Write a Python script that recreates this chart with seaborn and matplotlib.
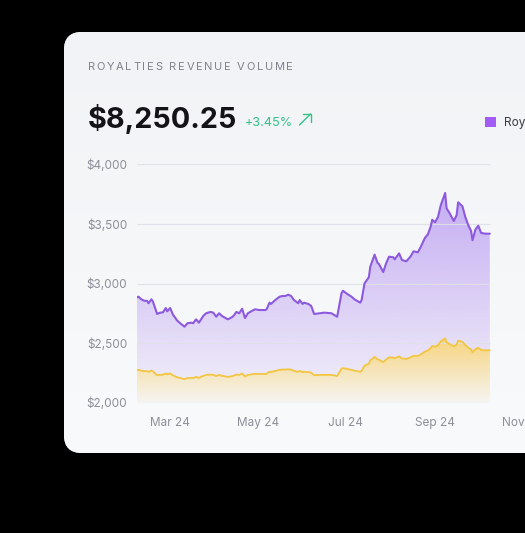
import numpy as np
import pandas as pd
import matplotlib
matplotlib.use("Agg")
import matplotlib.pyplot as plt
import matplotlib.dates as mdates
import seaborn as sns
from matplotlib.patches import FancyBboxPatch, Patch
from matplotlib.colors import to_rgb

# ---------------- data ----------------
start_date = "2024-02-07"
day_offset = [0, 1, 3, 5, 7, 8, 10, 11, 14, 16,
              18, 20, 21, 23, 25, 28, 30, 33, 35, 38,
              39, 41, 43, 46, 48, 51, 53, 55, 57, 59,
              63, 65, 67, 69, 71, 73, 75, 77, 80, 82,
              85, 89, 90, 92, 93, 96, 99, 101, 103, 105,
              107, 109, 112, 113, 115, 116, 119, 121, 123, 127,
              130, 135, 139, 142, 143, 146, 149, 151, 155, 156,
              158, 161, 162, 165, 167, 168, 171, 173, 175, 178,
              179, 182, 184, 187, 190, 192, 195, 197, 200, 202,
              204, 205, 207, 209, 211, 214, 215, 217, 220, 222,
              223, 226, 228, 230, 232, 233, 235, 237, 239, 242,
              245]
royalties = [2885, 2890, 2868, 2856, 2855, 2835, 2868, 2851, 2745, 2756,
             2758, 2795, 2767, 2795, 2739, 2688, 2667, 2638, 2667, 2672,
             2667, 2700, 2672, 2728, 2751, 2762, 2756, 2722, 2751, 2728,
             2700, 2711, 2728, 2762, 2751, 2789, 2711, 2751, 2772, 2784,
             2778, 2778, 2784, 2840, 2829, 2862, 2890, 2896, 2896, 2907,
             2896, 2862, 2835, 2862, 2829, 2840, 2829, 2812, 2745, 2751,
             2756, 2751, 2722, 2918, 2940, 2913, 2890, 2868, 2840, 2862,
             3002, 3053, 3142, 3243, 3175, 3165, 3097, 3170, 3226, 3221,
             3204, 3254, 3198, 3187, 3228, 3271, 3263, 3307, 3385, 3414,
             3481, 3536, 3515, 3559, 3660, 3761, 3632, 3593, 3526, 3576,
             3683, 3649, 3559, 3492, 3442, 3364, 3453, 3486, 3425, 3419,
             3419]
secondary = [2274, 2276, 2269, 2265, 2265, 2259, 2269, 2264, 2231, 2234,
             2235, 2246, 2238, 2246, 2229, 2213, 2207, 2198, 2207, 2208,
             2207, 2217, 2208, 2226, 2233, 2236, 2234, 2224, 2233, 2226,
             2217, 2220, 2226, 2236, 2233, 2245, 2220, 2233, 2239, 2243,
             2241, 2241, 2243, 2260, 2257, 2267, 2276, 2278, 2278, 2281,
             2278, 2267, 2259, 2267, 2257, 2260, 2257, 2252, 2231, 2233,
             2234, 2233, 2224, 2285, 2291, 2283, 2276, 2269, 2260, 2267,
             2311, 2326, 2354, 2385, 2364, 2361, 2340, 2363, 2380, 2379,
             2373, 2389, 2371, 2368, 2381, 2394, 2392, 2405, 2429, 2438,
             2459, 2476, 2470, 2483, 2515, 2540, 2506, 2494, 2473, 2489,
             2522, 2511, 2483, 2463, 2447, 2423, 2450, 2461, 2442, 2440,
             2440]
y_ticks = [2000, 2500, 3000, 3500, 4000]
y_tick_labels = ["$2,000", "$2,500", "$3,000", "$3,500", "$4,000"]
x_tick_dates = ["2024-03-01", "2024-05-01", "2024-07-01", "2024-09-01", "2024-11-01"]
x_tick_labels = ["Mar 24", "May 24", "Jul 24", "Sep 24", "Nov 24"]
title_text = "ROYALTIES REVENUE VOLUME"
total_text = "$8,250.25"
change_text = "+3.45%"
legend_labels = ["Royalties"]

# ---------------- style ----------------
sns.set_theme(style="white")
plt.rcParams["font.family"] = ["Inter", "DejaVu Sans"]

W, H = 525, 533
PURPLE_LINE = "#8D59DE"
PURPLE_FILL = "#A47BF0"
YELLOW_LINE = "#F3C641"
GRID = "#DFE0E6"
TICK = "#8C8F98"

fig = plt.figure(figsize=(W / 100, H / 100), dpi=100, facecolor="black")

# background (pixel coordinates)
bg = fig.add_axes([0, 0, 1, 1])
bg.set_xlim(0, W)
bg.set_ylim(H, 0)
bg.axis("off")
card = FancyBboxPatch((64, 32), 540, 421, boxstyle="round,pad=0,rounding_size=18",
                      facecolor="#F4F5F8", edgecolor="none")
bg.add_patch(card)
ctop = np.array(to_rgb("#F2F3F6"))
cbot = np.array(to_rgb("#F9FAFB"))
tt = np.linspace(0, 1, 256)[:, None]
cgrad = (ctop * (1 - tt) + cbot * tt)[:, None, :]
cim = bg.imshow(cgrad, extent=(64, 604, 453, 32), aspect="auto", origin="upper", zorder=1)
cim.set_clip_path(card)
bg.set_xlim(0, W)
bg.set_ylim(H, 0)

renderer = fig.canvas.get_renderer()


def text_width(ax_, txt, **kw):
    t = ax_.text(0, 0, txt, **kw)
    b = t.get_window_extent(renderer).width
    t.remove()
    return b


def tracked(ax_, x, y, s, target_w, **kw):
    base = text_width(ax_, "nn", **kw)
    adv = [text_width(ax_, "n" + c + "n", **kw) - base for c in s]
    natural = sum(adv[:-1]) + text_width(ax_, s[-1], **kw)
    tr = max(0.0, (target_w - natural) / (len(s) - 1))
    cx = x
    for c, a in zip(s, adv):
        if c != " ":
            ax_.text(cx + a / 2, y, c, ha="center", va="baseline", zorder=5, **kw)
        cx += a + tr


tracked(bg, 88, 70, title_text, 205, fontsize=8, color="#7F828B")

# big total: one text, size fitted to the reference width
big_kw = dict(fontweight="bold", color="#141418")
w23 = text_width(bg, total_text, fontsize=23, **big_kw)
big_fs = min(23.0, 23.0 * 149.0 / w23)
bg.text(88, 128.5, total_text, fontsize=big_fs, ha="left", va="baseline", zorder=5, **big_kw)

ch_kw = dict(color="#34C387")
wch = text_width(bg, change_text, fontsize=10, **ch_kw)
ch_fs = min(10.5, 10.0 * 48.5 / wch)
bg.text(244.5, 125.7, change_text, fontsize=ch_fs, ha="left", va="baseline", zorder=5, **ch_kw)
# arrow icon
bg.plot([299.5, 310.5], [125, 114], color="#34C387", lw=1.0, solid_capstyle="round", zorder=5)
bg.plot([302.5, 310.5, 310.5], [114, 114, 122], color="#34C387", lw=1.0,
        solid_capstyle="round", solid_joinstyle="round", zorder=5)

# ---------------- chart ----------------
px_per_day = 1.44
span_days = 273
ax = fig.add_axes([137 / W, 1 - 402.7 / H, span_days * px_per_day / W, (402.7 - 164.5) / H])
ax.patch.set_alpha(0)

dates = pd.Timestamp(start_date) + pd.to_timedelta(day_offset, unit="D")
df = pd.DataFrame({"date": dates, "royalties": royalties, "secondary": secondary})
xn = mdates.date2num(df["date"])

# purple area gradient
pc = ax.fill_between(df["date"], df["royalties"], y_ticks[0], facecolor="none", edgecolor="none")
pr = np.zeros((256, 1, 4))
pr[..., :3] = to_rgb(PURPLE_FILL)
pr[:, 0, 3] = np.linspace(0.06, 0.66, 256)
pim = ax.imshow(pr, extent=(xn[0], xn[-1], y_ticks[0], y_ticks[-1]), aspect="auto",
                origin="lower", zorder=1, interpolation="bilinear")
pim.set_clip_path(pc.get_paths()[0], transform=ax.transData)

# yellow area gradient (opaque)
yc = ax.fill_between(df["date"], df["secondary"], y_ticks[0], facecolor="none", edgecolor="none")
ytop = np.array(to_rgb("#F6D37A"))
ybot = np.array(to_rgb("#F7F5F4"))
s = np.linspace(0, 1, 256)[:, None]
yr = (ybot * (1 - s) + ytop * s)[:, None, :]
yim = ax.imshow(yr, extent=(xn[0], xn[-1], y_ticks[0], 2560), aspect="auto",
                origin="lower", zorder=2, interpolation="bilinear")
yim.set_clip_path(yc.get_paths()[0], transform=ax.transData)

ax.hlines(y_ticks, xn[0], xn[-1], color=GRID, linewidth=0.8, zorder=3, alpha=0.9)

sns.lineplot(data=df, x="date", y="royalties", ax=ax, color=PURPLE_LINE, linewidth=1.5, zorder=5)
sns.lineplot(data=df, x="date", y="secondary", ax=ax, color=YELLOW_LINE, linewidth=1.3, zorder=4)

x0 = mdates.date2num(pd.Timestamp(start_date))
ax.set_xlim(x0, x0 + span_days)
ax.set_ylim(y_ticks[0], y_ticks[-1])
ax.set_yticks(y_ticks)
ax.set_yticklabels(y_tick_labels)
ax.set_xticks(mdates.date2num(pd.to_datetime(x_tick_dates)))
ax.set_xticklabels(x_tick_labels)
ax.tick_params(axis="both", length=0, labelsize=8.5, colors=TICK)
ax.tick_params(axis="y", pad=7)
ax.tick_params(axis="x", pad=10)
ax.set_xlabel("")
ax.set_ylabel("")
ax.grid(False)
for sp in ax.spines.values():
    sp.set_visible(False)

# legend
handles = [Patch(facecolor="#A35BF5", edgecolor="none")]
fig.legend(handles, legend_labels, loc="center left",
           bbox_to_anchor=(485 / W, 1 - 123.3 / H), frameon=False, fontsize=8.5,
           handlelength=0.95, handleheight=0.95, handletextpad=0.7,
           borderpad=0, borderaxespad=0, labelcolor="#3A3A40")

fig.savefig("out.png", dpi=100, facecolor="black")
